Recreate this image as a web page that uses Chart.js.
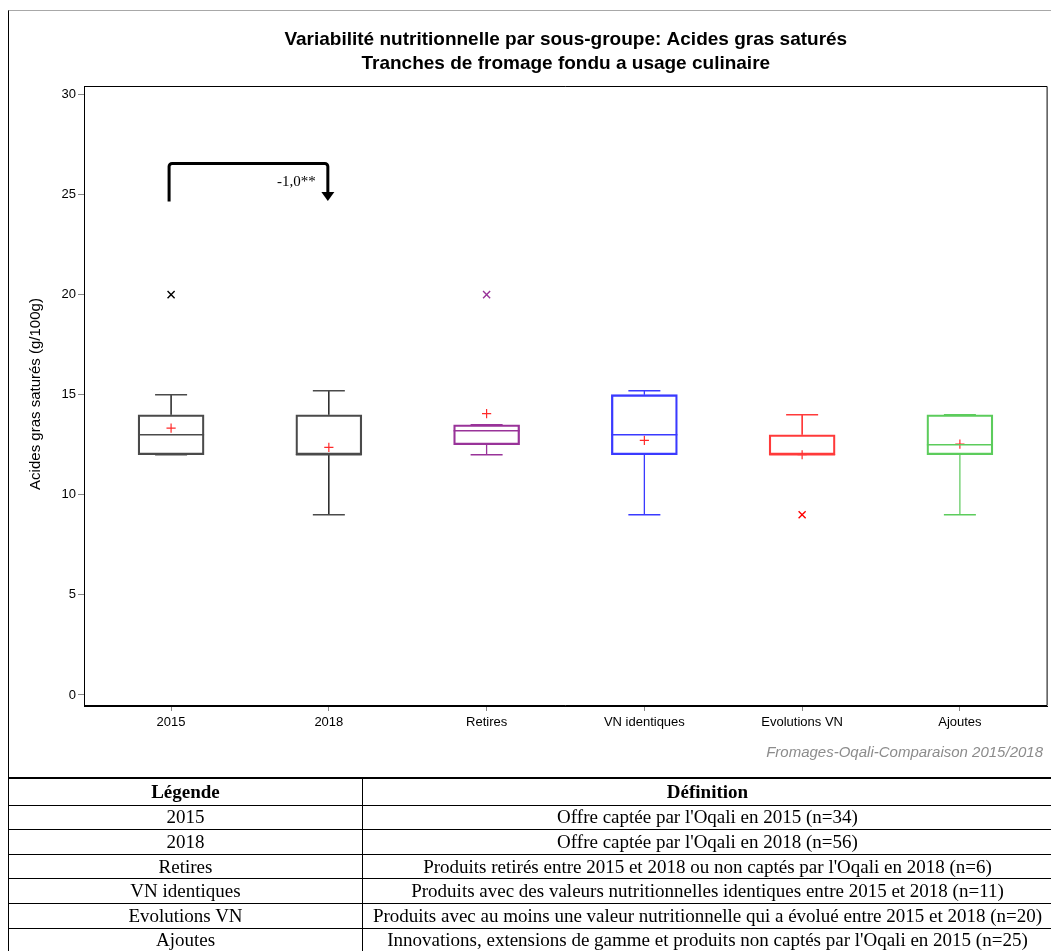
<!DOCTYPE html>
<html>
<head>
<meta charset="utf-8">
<script src="https://cdn.jsdelivr.net/npm/chart.js@4.4.1/dist/chart.umd.min.js"></script>
<style>
  html, body { margin: 0; padding: 0; background: #fff; width: 1051px; height: 951px; overflow: hidden; }
  #frame { position: absolute; left: 8px; top: 10px; width: 1050px; height: 768px; border-top: 1px solid #a8a8a8; border-left: 1px solid #000; }
  #wrap { position: absolute; left: 0; top: 0; width: 1054px; height: 778px; }
  table { position: absolute; left: 8px; top: 777px; border-collapse: collapse; table-layout: fixed; width: 1045px;
          font-family: "Liberation Serif", "DejaVu Serif", serif; font-size: 19px; color: #000; }
  table tr:first-child td { border-top: 2px solid #000; font-weight: bold; height: 25.6px; }
  td { border: 1px solid #000; height: 23.6px; padding: 0; text-align: center; white-space: nowrap; overflow: hidden; line-height: 22px; }
  td.c1 { width: 353px; }
</style>
</head>
<body>
<div id="frame"></div>
<div id="wrap"><canvas id="c" width="1054" height="778"></canvas></div>
<table id="legend"></table>
<script>
// ---- data ----
const categories  = ['2015', '2018', 'Retires', 'VN identiques', 'Evolutions VN', 'Ajoutes'];
const whiskerLow  = [12, 9, 12, 9, 12, 9];
const q1          = [12, 12, 12.5, 12, 12, 12];
const median      = [13, 12, 13.2, 13, 12, 12.5];
const q3          = [14, 14, 13.5, 15, 13, 14];
const whiskerHigh = [15, 15.2, 13.5, 15.2, 14, 14];
const means       = [13.33, 12.37, 14.05, 12.72, 12.0, 12.53];
const outliers    = [[20], [], [20], [], [9], []];
const yTicks      = [0, 5, 10, 15, 20, 25, 30];
const comparisonFrom = 0, comparisonTo = 1;
const comparisonLabel = '-1,0**';

const legendLabels = ['2015', '2018', 'Retires', 'VN identiques', 'Evolutions VN', 'Ajoutes'];
const legendDefs = [
  "Offre captée par l'Oqali en 2015 (n=34)",
  "Offre captée par l'Oqali en 2018 (n=56)",
  "Produits retirés entre 2015 et 2018 ou non captés par l'Oqali en 2018 (n=6)",
  "Produits avec des valeurs nutritionnelles identiques entre 2015 et 2018 (n=11)",
  "Produits avec au moins une valeur nutritionnelle qui a évolué entre 2015 et 2018 (n=20)",
  "Innovations, extensions de gamme et produits non captés par l'Oqali en 2015 (n=25)"
];

// ---- styles ----
const boxColors     = ['#4a4a4a', '#4a4a4a', '#993399', '#3a3aff', '#ff3a3a', '#5ccc5c'];
const whiskerColors = ['#000000', '#000000', '#993399', '#3a3aff', '#ff0000', '#66cc66'];
const outlierColors = ['#000000', '#000000', '#993399', '#3a3aff', '#ff0000', '#5ccc5c'];

// legend table
const tbl = document.getElementById('legend');
function addRow(a, b) {
  const tr = document.createElement('tr');
  const td1 = document.createElement('td'); td1.className = 'c1'; td1.textContent = a;
  const td2 = document.createElement('td'); td2.textContent = b;
  tr.appendChild(td1); tr.appendChild(td2); tbl.appendChild(tr);
}
addRow('Légende', 'Définition');
legendLabels.forEach((l, i) => addRow(l, legendDefs[i]));

const boxData = categories.map((c, i) => ({ x: i, y: [q1[i], q3[i]] }));
const meanData = categories.map((c, i) => ({ x: i, y: means[i] }));
const outData = [], outCol = [];
outliers.forEach((arr, i) => arr.forEach(v => { outData.push({ x: i, y: v }); outCol.push(outlierColors[i]); }));

const boxPlugin = {
  id: 'boxExtras',
  beforeDraw(chart) {
    const { ctx, chartArea: a } = chart;
    ctx.save();
    ctx.fillStyle = '#000';
    ctx.font = 'bold 19px "Liberation Sans", Arial, sans-serif';
    ctx.textAlign = 'center';
    ctx.textBaseline = 'middle';
    const cx = (a.left + a.right) / 2;
    ctx.fillText('Variabilité nutritionnelle par sous-groupe: Acides gras saturés', cx, 40);
    ctx.fillText('Tranches de fromage fondu a usage culinaire', cx, 64);
    // y title
    ctx.font = '15px "Liberation Sans", Arial, sans-serif';
    ctx.translate(36, (a.top + a.bottom) / 2 - 2);
    ctx.rotate(-Math.PI / 2);
    ctx.fillText('Acides gras saturés (g/100g)', 0, 0);
    ctx.restore();
    // footer
    ctx.save();
    ctx.fillStyle = '#8c8c8c';
    ctx.font = 'italic 15px "Liberation Sans", Arial, sans-serif';
    ctx.textAlign = 'right';
    ctx.textBaseline = 'middle';
    ctx.fillText('Fromages-Oqali-Comparaison 2015/2018', 1043, 753);
    ctx.restore();
  },
  afterDatasetsDraw(chart) {
    const { ctx, chartArea: a } = chart;
    const xs = chart.scales.x, ys = chart.scales.y;
    ctx.save();
    categories.forEach((c, i) => {
      const x = xs.getPixelForValue(i);
      const yl = ys.getPixelForValue(whiskerLow[i]);
      const yq1 = ys.getPixelForValue(q1[i]);
      const yq3 = ys.getPixelForValue(q3[i]);
      const yh = ys.getPixelForValue(whiskerHigh[i]);
      const ym = ys.getPixelForValue(median[i]);
      ctx.lineWidth = 1.3;
      ctx.strokeStyle = whiskerColors[i];
      ctx.beginPath();
      ctx.moveTo(x, yq3); ctx.lineTo(x, yh);
      ctx.moveTo(x, yq1); ctx.lineTo(x, yl);
      ctx.stroke();
      ctx.strokeStyle = boxColors[i];
      ctx.lineWidth = 1.6;
      ctx.beginPath();
      ctx.moveTo(x - 16, yh); ctx.lineTo(x + 16, yh);
      ctx.moveTo(x - 16, yl); ctx.lineTo(x + 16, yl);
      ctx.moveTo(x - 33, ym); ctx.lineTo(x + 33, ym);
      ctx.stroke();
    });
    // comparison bracket
    const x0 = xs.getPixelForValue(comparisonFrom) - 2;
    const x1 = xs.getPixelForValue(comparisonTo) - 1;
    const yBase = ys.getPixelForValue(24.65);
    const yTop = ys.getPixelForValue(26.55);
    const yTip = ys.getPixelForValue(24.67);
    ctx.strokeStyle = '#000';
    ctx.fillStyle = '#000';
    ctx.lineWidth = 3;
    ctx.lineJoin = 'round';
    ctx.beginPath();
    ctx.moveTo(x0, yBase);
    ctx.arcTo(x0, yTop, x1, yTop, 3);
    ctx.arcTo(x1, yTop, x1, yTip, 3);
    ctx.lineTo(x1, yTip - 8);
    ctx.stroke();
    ctx.beginPath();
    ctx.moveTo(x1 - 6.5, yTip - 9);
    ctx.lineTo(x1 + 6.5, yTip - 9);
    ctx.lineTo(x1, yTip);
    ctx.closePath();
    ctx.fill();
    ctx.font = '15px "Liberation Serif", "DejaVu Serif", serif';
    ctx.textAlign = 'right';
    ctx.textBaseline = 'middle';
    ctx.fillText(comparisonLabel, x1 - 12, (yTop + yTip) / 2);
    // plot frame
    ctx.lineWidth = 1;
    ctx.strokeStyle = '#000';
    ctx.strokeRect(a.left + 0.5, a.top + 0.5, a.right - a.left - 1, a.bottom - a.top - 1);
    ctx.restore();
  }
};

new Chart(document.getElementById('c'), {
  type: 'bar',
  data: {
    datasets: [
      { type: 'bar', data: boxData, backgroundColor: 'rgba(255,255,255,0)', borderColor: boxColors,
        borderWidth: 1.6, borderSkipped: false, barThickness: 66, order: 3 },
      { type: 'line', data: meanData, showLine: false, pointStyle: 'cross', pointRadius: 4.6,
        pointBorderColor: '#ff2a2a', pointBorderWidth: 1.2, pointBackgroundColor: '#ff2a2a', order: 1 },
      { type: 'line', data: outData, showLine: false, pointStyle: 'crossRot', pointRadius: 5,
        pointBorderColor: outCol, pointBorderWidth: 1.4, order: 2 }
    ]
  },
  options: {
    responsive: false,
    animation: false,
    devicePixelRatio: 1,
    layout: { padding: { left: 0, top: 86, right: 4, bottom: 0 } },
    plugins: { legend: { display: false }, tooltip: { enabled: false }, title: { display: false } },
    scales: {
      x: {
        type: 'linear', offset: false, min: -0.552, max: 5.556,
        afterBuildTicks: s => { s.ticks = categories.map((c, i) => ({ value: i })); },
        afterFit: s => { s.height = 72; },
        grid: { display: true, offset: false, drawOnChartArea: false, drawTicks: true, tickLength: 5, color: '#888' },
        border: { display: true, color: '#000' },
        ticks: { autoSkip: false, maxRotation: 0, padding: 4, color: '#000',
                 font: { family: '"Liberation Sans", Arial, sans-serif', size: 13 },
                 callback: v => categories[v] }
      },
      y: {
        type: 'linear', min: -0.55, max: 30.42,
        afterBuildTicks: s => { s.ticks = yTicks.map(v => ({ value: v })); },
        afterFit: s => { s.width = 84; },
        grid: { display: true, drawOnChartArea: false, drawTicks: true, tickLength: 6, color: '#888' },
        border: { display: true, color: '#000' },
        ticks: { padding: 2, color: '#000', font: { family: '"Liberation Sans", Arial, sans-serif', size: 13 } }
      }
    }
  },
  plugins: [boxPlugin]
});
</script>
</body>
</html>
